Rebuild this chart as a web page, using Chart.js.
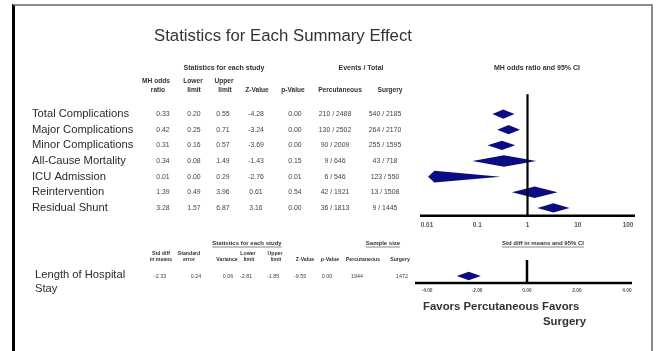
<!DOCTYPE html>
<html><head><meta charset="utf-8">
<script src="https://cdn.jsdelivr.net/npm/chart.js@4.4.1/dist/chart.umd.min.js"></script>
<style>
html,body{margin:0;padding:0;background:#fff;}
#wrap{position:relative;width:656px;height:351px;overflow:hidden;background:#fff;}
#frame{position:absolute;left:12px;top:4px;width:641px;height:380px;border-left:3px solid #000;border-top:2px solid #8a8a8a;border-right:2px solid #8a8a8a;box-sizing:border-box;}
canvas{position:absolute;left:0;top:0;}
</style></head><body>
<div id="wrap"><div id="frame"></div>
<canvas id="c1" width="656" height="351"></canvas>
<canvas id="c2" width="656" height="351"></canvas>
</div>
<script>
// ---------- data: binary outcomes (MH odds ratio) ----------
const outcomes = ["Total Complications","Major Complications","Minor Complications","All-Cause Mortality","ICU Admission","Reintervention","Residual Shunt"];
const oddsRatio  = [0.33, 0.42, 0.31, 0.34, 0.014, 1.39, 3.28];
const lowerLimit = [0.20, 0.25, 0.16, 0.08, 0.002, 0.49, 1.57];
const upperLimit = [0.55, 0.71, 0.57, 1.49, 0.29, 3.96, 6.87];
const zValue     = [-4.28, -3.24, -3.69, -1.43, -2.76, 0.61, 3.16];
const pValue     = [0.00, 0.00, 0.00, 0.15, 0.01, 0.54, 0.00];
const eventsPercutaneous = ["210 / 2488","130 / 2502","90 / 2009","9 / 646","6 / 546","42 / 1921","36 / 1813"];
const eventsSurgery      = ["540 / 2185","264 / 2170","255 / 1595","43 / 718","123 / 550","13 / 1508","9 / 1445"];
const orTickValues = [0.01, 0.1, 1, 10, 100];
const orTickLabels = ["0.01","0.1","1","10","100"];

// ---------- data: continuous outcome (std diff in means) ----------
const contOutcome = ["Length of Hospital","Stay"];
const stdDiff   = [-2.33];
const stdError  = [0.24];
const variance  = [0.06];
const sdLower   = [-2.81];
const sdUpper   = [-1.85];
const sdZ       = [-9.55];
const sdP       = [0.00];
const samplePercutaneous = [1944];
const sampleSurgery      = [1472];
const sdTickValues = [-4, -2, 0, 2, 4];
const sdTickLabels = ["-4.00","-2.00","0.00","2.00","4.00"];

const FONT = "'Liberation Sans', Arial, sans-serif";
const NAVY = "#0b0b82";
const TXT = "#333";

function txt(ctx, s, x, y, font, align, color){
  ctx.font = font; ctx.textAlign = align || 'center'; ctx.textBaseline = 'middle';
  ctx.fillStyle = color || TXT; ctx.fillText(s, x, y);
}
function line(ctx, x1, y1, x2, y2, w, color){
  ctx.beginPath(); ctx.moveTo(x1,y1); ctx.lineTo(x2,y2);
  ctx.lineWidth = w; ctx.strokeStyle = color || '#000'; ctx.stroke();
}
function underlineText(ctx, s, x, y, font){
  txt(ctx, s, x, y, font, 'center');
  const w = ctx.measureText(s).width;
  line(ctx, x - w/2, y + 4, x + w/2, y + 4, 0.7, '#555');
}

const topPlugin = {
  id: 'topForest',
  afterDraw(chart){
    const ctx = chart.ctx, xs = chart.scales.x, ys = chart.scales.y;
    const area = chart.chartArea;
    ctx.save();
    // diamonds
    const meta = chart.getDatasetMeta(0);
    const h = 4.6;
    meta.data.forEach((pt, i) => {
      const lo = xs.getPixelForValue(Math.max(lowerLimit[i], xs.min * 1.05));
      const hi = xs.getPixelForValue(Math.min(upperLimit[i], xs.max));
      const cx = pt.x, cy = pt.y;
      const hh = (i >= 3 && i <= 5) ? h + 1.2 : h;
      ctx.beginPath();
      ctx.moveTo(lo, cy); ctx.lineTo(cx, cy - hh); ctx.lineTo(hi, cy); ctx.lineTo(cx, cy + hh);
      ctx.closePath(); ctx.fillStyle = NAVY; ctx.fill();
    });
    // axis + reference line
    const x1 = xs.getPixelForValue(1);
    line(ctx, x1, area.top - 12, x1, area.bottom, 2.2);
    line(ctx, area.left - 7, area.bottom, area.right + 7, area.bottom, 2.5);
    orTickValues.forEach((v, i) => {
      txt(ctx, orTickLabels[i], xs.getPixelForValue(v), area.bottom + 9, "bold 6.4px " + FONT, 'center', '#555');
    });
    // title
    txt(ctx, "Statistics for Each Summary Effect", 283, 36, "16.8px " + FONT, 'center', '#333');
    // headers
    const hf = "bold 7px " + FONT;
    txt(ctx, "Statistics for each study", 224, 68, hf);
    txt(ctx, "Events / Total", 361, 68, hf);
    txt(ctx, "MH odds ratio and 95% CI", 537, 68, hf);
    const sf = "bold 6.6px " + FONT;
    txt(ctx, "MH odds", 156, 81, sf); txt(ctx, "ratio", 158, 90, sf);
    txt(ctx, "Lower", 193, 81, sf); txt(ctx, "limit", 194, 90, sf);
    txt(ctx, "Upper", 224, 81, sf); txt(ctx, "limit", 225, 90, sf);
    txt(ctx, "Z-Value", 257, 90, sf);
    txt(ctx, "p-Value", 293, 90, sf);
    txt(ctx, "Percutaneous", 340, 90, sf);
    txt(ctx, "Surgery", 390, 90, sf);
    // rows
    const vf = "6.9px " + FONT;
    outcomes.forEach((name, i) => {
      const y = ys.getPixelForValue(i);
      txt(ctx, name, 32, y, "11.2px " + FONT, 'left', '#2b2b2b');
      txt(ctx, oddsRatio[i].toFixed(2), 163, y, vf, 'center', '#444');
      txt(ctx, lowerLimit[i].toFixed(2), 194, y, vf, 'center', '#444');
      txt(ctx, upperLimit[i].toFixed(2), 223, y, vf, 'center', '#444');
      txt(ctx, zValue[i].toFixed(2), 256, y, vf, 'center', '#444');
      txt(ctx, pValue[i].toFixed(2), 295, y, vf, 'center', '#444');
      txt(ctx, eventsPercutaneous[i], 335, y, vf, 'center', '#444');
      txt(ctx, eventsSurgery[i], 385, y, vf, 'center', '#444');
    });
    ctx.restore();
  }
};

const bottomPlugin = {
  id: 'bottomForest',
  afterDraw(chart){
    const ctx = chart.ctx, xs = chart.scales.x, ys = chart.scales.y;
    const area = chart.chartArea;
    ctx.save();
    const meta = chart.getDatasetMeta(0);
    meta.data.forEach((pt, i) => {
      const lo = xs.getPixelForValue(sdLower[i]);
      const hi = xs.getPixelForValue(sdUpper[i]);
      const cx = pt.x, cy = pt.y, hh = 4.2;
      ctx.beginPath();
      ctx.moveTo(lo, cy); ctx.lineTo(cx, cy - hh); ctx.lineTo(hi, cy); ctx.lineTo(cx, cy + hh);
      ctx.closePath(); ctx.fillStyle = NAVY; ctx.fill();
    });
    const x0 = xs.getPixelForValue(0);
    line(ctx, x0, area.top - 9, x0, area.bottom, 2.5);
    line(ctx, area.left - 12, area.bottom, area.right + 5, area.bottom, 2.5);
    sdTickValues.forEach((v, i) => {
      txt(ctx, sdTickLabels[i], xs.getPixelForValue(v), area.bottom + 7.5, "bold 4.8px " + FONT, 'center', '#555');
    });
    const uf = "bold 6px " + FONT;
    underlineText(ctx, "Statistics for each study", 247, 243, uf);
    underlineText(ctx, "Sample size", 383, 243, uf);
    underlineText(ctx, "Std diff in means and 95% CI", 543, 243, uf);
    const hf = "bold 5.2px " + FONT;
    txt(ctx, "Std diff", 161, 254, hf); txt(ctx, "in means", 161, 260, hf);
    txt(ctx, "Standard", 189, 254, hf); txt(ctx, "error", 189, 260, hf);
    txt(ctx, "Variance", 227, 260, hf);
    txt(ctx, "Lower", 248, 254, hf); txt(ctx, "limit", 249, 260, hf);
    txt(ctx, "Upper", 275, 254, hf); txt(ctx, "limit", 276, 260, hf);
    txt(ctx, "Z-Value", 305, 260, hf);
    txt(ctx, "p-Value", 330, 260, hf);
    txt(ctx, "Percutaneous", 363, 260, hf);
    txt(ctx, "Surgery", 400, 260, hf);
    const y = ys.getPixelForValue(0) + 1;
    const vf = "5.4px " + FONT;
    txt(ctx, stdDiff[0].toFixed(2), 160, y, vf, 'center', '#444');
    txt(ctx, stdError[0].toFixed(2), 196, y, vf, 'center', '#444');
    txt(ctx, variance[0].toFixed(2), 228, y, vf, 'center', '#444');
    txt(ctx, sdLower[0].toFixed(2), 246, y, vf, 'center', '#444');
    txt(ctx, sdUpper[0].toFixed(2), 273, y, vf, 'center', '#444');
    txt(ctx, sdZ[0].toFixed(2), 300, y, vf, 'center', '#444');
    txt(ctx, sdP[0].toFixed(2), 327, y, vf, 'center', '#444');
    txt(ctx, String(samplePercutaneous[0]), 357, y, vf, 'center', '#444');
    txt(ctx, String(sampleSurgery[0]), 402, y, vf, 'center', '#444');
    txt(ctx, contOutcome[0], 35, 275, "11.2px " + FONT, 'left', '#2b2b2b');
    txt(ctx, contOutcome[1], 35, 289, "11.2px " + FONT, 'left', '#2b2b2b');
    txt(ctx, "Favors Percutaneous", 423, 307, "bold 11.4px " + FONT, 'left', '#333');
    txt(ctx, "Favors", 542, 307, "bold 11.4px " + FONT, 'left', '#333');
    txt(ctx, "Surgery", 543, 322, "bold 11.4px " + FONT, 'left', '#333');
    ctx.restore();
  }
};

const common = {
  responsive: false, animation: false, devicePixelRatio: 1,
  plugins: { legend: { display: false }, tooltip: { enabled: false } }
};

new Chart(document.getElementById('c1'), {
  type: 'scatter',
  data: { datasets: [{ data: oddsRatio.map((v, i) => ({ x: v, y: i })), pointRadius: 0 }] },
  options: Object.assign({}, common, {
    layout: { padding: { left: 427, right: 28, top: 106.2, bottom: 135.2 } },
    scales: {
      x: { type: 'logarithmic', min: 0.01, max: 100, display: false },
      y: { type: 'linear', min: -0.5, max: 6.5, reverse: true, display: false }
    }
  }),
  plugins: [topPlugin]
});

new Chart(document.getElementById('c2'), {
  type: 'scatter',
  data: { datasets: [{ data: stdDiff.map((v, i) => ({ x: v, y: i })), pointRadius: 0 }] },
  options: Object.assign({}, common, {
    layout: { padding: { left: 427, right: 29, top: 269, bottom: 68 } },
    scales: {
      x: { type: 'linear', min: -4, max: 4, display: false },
      y: { type: 'linear', min: -0.5, max: 0.5, display: false }
    }
  }),
  plugins: [bottomPlugin]
});
</script>
</body></html>
